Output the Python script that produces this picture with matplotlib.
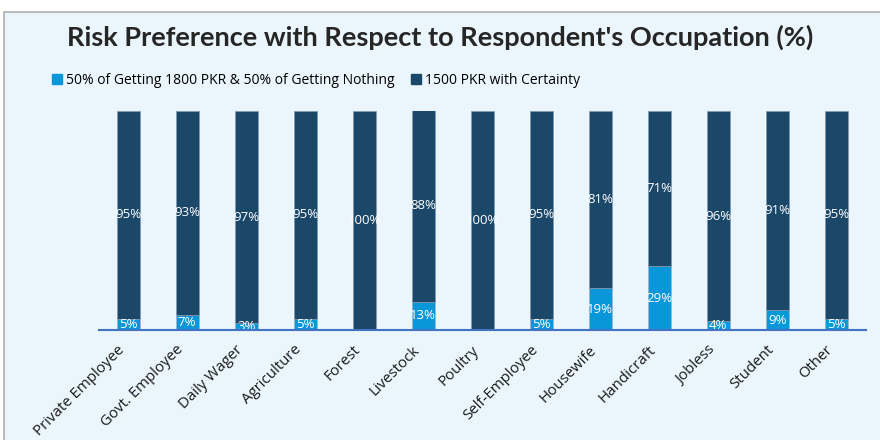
import matplotlib.pyplot as plt
from matplotlib.patches import Rectangle, Patch
from matplotlib.transforms import ScaledTranslation

# occupations and shares (%)
occupations = ['Private Employee', 'Govt. Employee', 'Daily Wager', 'Agriculture', 'Forest',
               'Livestock', 'Poultry', 'Self-Employee', 'Housewife', 'Handicraft', 'Jobless',
               'Student', 'Other']
risky = [5, 7, 3, 5, 0, 13, 0, 5, 19, 29, 4, 9, 5]
certain = [95, 93, 97, 95, 100, 88, 100, 95, 81, 71, 96, 91, 95]

light_blue = '#0a97d9'
dark_blue = '#1b4769'

fig = plt.figure(figsize=(8.8, 4.4), dpi=100)
fig.patch.set_facecolor('white')

# panel background with thin grey border, in its own axes behind everything
bg = fig.add_axes([0, 0, 1, 1], zorder=-1)
bg.axis('off')
bg.add_patch(Rectangle((0.005, -0.05), 1.2, 1.022, transform=bg.transAxes,
                       facecolor='#eaf5fc', edgecolor='#b0b0b0', linewidth=1.2))

ax = fig.add_axes([0.112, 0.25, 0.872, 0.498])
ax.set_facecolor('none')

x = range(len(occupations))
width = 0.39
ax.bar(x, risky, width, color=light_blue, edgecolor='#9fb6c8', linewidth=0.5, zorder=2)
ax.bar(x, certain, width, bottom=risky, color=dark_blue, edgecolor='#7f9bb3',
       linewidth=0.5, zorder=2)

# value labels in the middle of each segment
for i in x:
    if risky[i] > 0:
        ax.text(i, risky[i] / 2, '{}%'.format(risky[i]), ha='center', va='center',
                color='white', fontsize=9.5, fontfamily='Open Sans', zorder=3)
    ax.text(i, risky[i] + certain[i] / 2, '{}%'.format(certain[i]), ha='center', va='center',
            color='white', fontsize=9.5, fontfamily='Open Sans', zorder=3)

ax.set_xlim(-0.5, len(occupations) - 0.5)
ax.set_ylim(0, 100)
ax.set_yticks([])
for side in ['top', 'right', 'left']:
    ax.spines[side].set_visible(False)
ax.spines['bottom'].set_color('#4472c4')
ax.spines['bottom'].set_linewidth(1.5)
ax.spines['bottom'].set_zorder(4)
ax.set_xticks(list(x))
ax.set_xticklabels(occupations, rotation=45, ha='right', rotation_mode='anchor',
                   fontsize=10.8, fontfamily='Open Sans', color='#1a1a1a')
ax.tick_params(axis='x', length=0, pad=9)
# nudge the rotated labels left so their ends sit under the bars
shift = ScaledTranslation(-8 / 72, 0, fig.dpi_scale_trans)
for lab in ax.get_xticklabels():
    lab.set_transform(lab.get_transform() + shift)

fig.text(0.5, 0.915, "Risk Preference with Respect to Respondent's Occupation (%)",
         ha='center', va='center', fontsize=19.5, fontweight='bold', fontfamily='Lato',
         color='#262626')

handles = [Patch(color=light_blue, label='50% of Getting 1800 PKR & 50% of Getting Nothing'),
           Patch(color=dark_blue, label='1500 PKR with Certainty')]
fig.legend(handles=handles, loc='center left', bbox_to_anchor=(0.045, 0.818), ncol=2,
           frameon=False, handlelength=0.7, handleheight=0.7, handletextpad=0.3,
           columnspacing=1.2, prop={'family': 'Open Sans', 'size': 10})

fig.savefig('out.png', dpi=100)
